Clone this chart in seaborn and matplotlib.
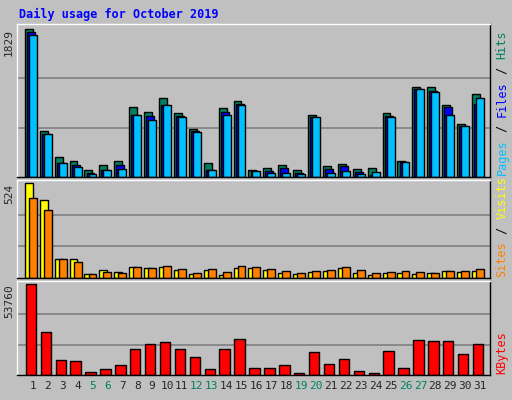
import matplotlib
matplotlib.use("Agg")
import matplotlib.pyplot as plt
import seaborn as sns
import numpy as np

days = list(range(1, 32))
hits = [1829, 575, 244, 195, 91, 153, 203, 861, 799, 973, 787, 588, 178, 849, 936, 91,
        116, 153, 91, 762, 141, 166, 104, 116, 787, 203, 1110, 1110, 886, 650, 1023]
files = [1792, 526, 178, 153, 54, 91, 153, 762, 749, 886, 749, 563, 91, 799, 898, 79,
         79, 116, 54, 737, 104, 141, 66, 29, 749, 190, 1085, 1060, 861, 625, 898]
pages = [1759, 526, 178, 120, 41, 91, 104, 762, 700, 886, 737, 551, 91, 762, 886, 79,
         54, 54, 41, 737, 54, 79, 41, 66, 737, 190, 1085, 1047, 762, 625, 973]
visits = [524, 433, 103, 103, 23, 46, 34, 63, 57, 63, 46, 23, 46, 17, 57, 57,
          46, 28, 23, 34, 40, 57, 28, 17, 28, 28, 23, 28, 40, 34, 40]
sites = [444, 376, 103, 91, 23, 34, 28, 63, 57, 68, 51, 28, 51, 34, 68, 63,
         51, 40, 28, 40, 46, 63, 46, 28, 34, 40, 34, 28, 40, 40, 51]
kbytes = [53760, 25400, 8860, 8270, 1770, 3540, 5900, 15360, 18300, 19500, 15360, 10630,
          3540, 15360, 21270, 4130, 4130, 5900, 1180, 13590, 6500, 9450, 2360, 1180,
          14180, 4130, 20670, 20080, 20080, 12400, 18300]
weekend = [5, 6, 12, 13, 19, 20, 26, 27]

sns.set_style("white")
plt.rcParams['font.family'] = ['DejaVu Sans Mono']
grey = "#c0c0c0"

fig = plt.figure(figsize=(5.12, 4.0), dpi=100, facecolor=grey)
ax1 = fig.add_axes([0.033, 0.5575, 0.924, 0.3825])
ax2 = fig.add_axes([0.033, 0.305, 0.924, 0.245])
ax3 = fig.add_axes([0.033, 0.0625, 0.924, 0.235])

x = np.array(days, dtype=float)
kw = dict(edgecolor="black", linewidth=1)
ax1.bar(x - 0.27, hits, width=0.53, color="#008060", **kw)
ax1.bar(x - 0.13, files, width=0.53, color="#0000ff", **kw)
ax1.bar(x, pages, width=0.53, color="#00c0ff", **kw)
ax2.bar(x - 0.27, visits, width=0.53, color="#ffff00", **kw)
ax2.bar(x, sites, width=0.53, color="#ff8000", **kw)
ax3.bar(x - 0.13, kbytes, width=0.7, color="#ff0000", **kw)

for ax, top in [(ax1, max(hits)), (ax2, max(visits)), (ax3, max(kbytes))]:
    ax.set_facecolor(grey)
    ax.set_xlim(-0.07, 31.67)
    ax.set_ylim(0, top * 1.035)
    for f in (1 / 3, 2 / 3):
        ax.axhline(top * f, color="#808080", linewidth=1.2, zorder=0)
    ax.set_yticks([top])
    ax.set_yticklabels([str(top)], rotation=90, va="top", fontsize=8)
    ax.tick_params(axis="y", length=0, pad=2)
    ax.set_xticks([])
    for s in ax.spines.values():
        s.set_color("black")
        s.set_linewidth(1)
    ax.spines["left"].set_color("white")
    ax.spines["top"].set_color("white")

ax3.set_xticks(days)
ax3.set_xticklabels([str(d) for d in days], fontsize=8)
ax3.tick_params(axis="x", length=0, pad=4)
for lbl, d in zip(ax3.get_xticklabels(), days):
    if d in weekend:
        lbl.set_color("#008060")


def side_label(ax, parts):
    # monospace: step per character in pixels, converted to axes fraction
    hpx = ax.get_position().height * 400
    step = 7.3 / hpx
    y = 0.01
    for txt, col in parts:
        ax.text(1.012, y, txt, transform=ax.transAxes, rotation=90, color=col,
                fontsize=8.5, ha="left", va="bottom")
        y += len(txt) * step


side_label(ax1, [("Pages", "#00c0ff"), (" / ", "black"), ("Files", "#0000ff"),
                 (" / ", "black"), ("Hits", "#008060")])
side_label(ax2, [("Sites", "#ff8000"), (" / ", "black"), ("Visits", "#ffff00")])
side_label(ax3, [("KBytes", "#ff0000")])

fig.text(0.037, 0.965, "Daily usage for October 2019", color="#0000ff",
         fontsize=8.5, fontweight="bold", va="center")

fig.savefig("out.png", dpi=100, facecolor=grey)
